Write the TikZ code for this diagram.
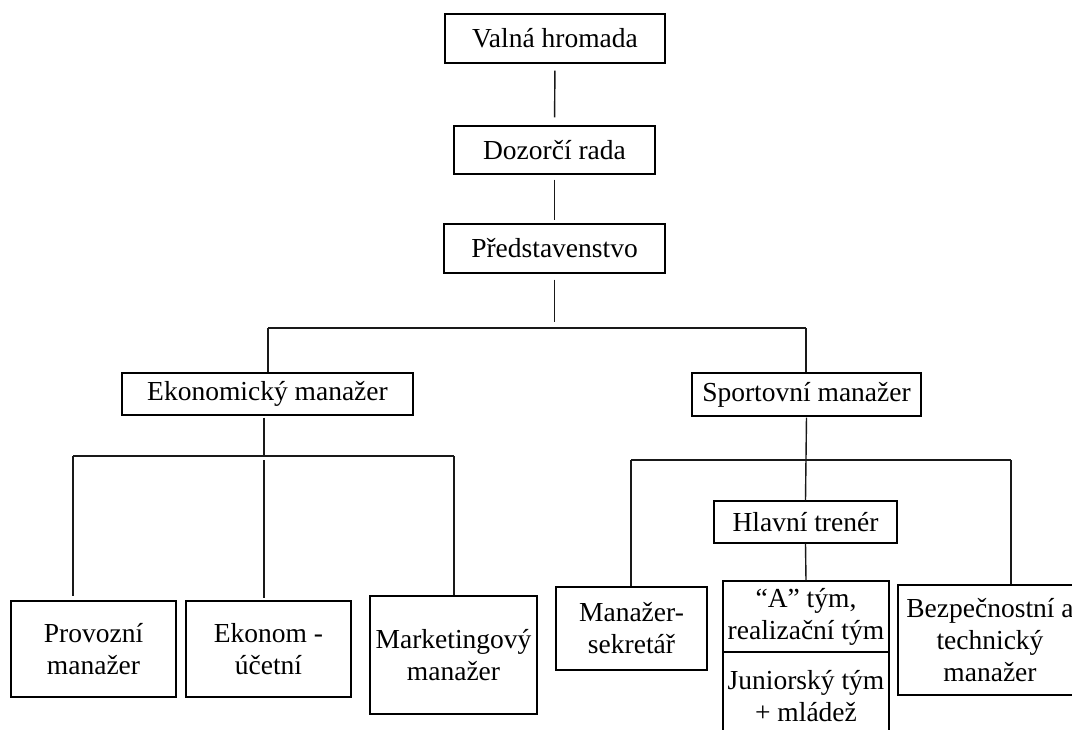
\documentclass[tikz,border=0pt]{standalone}
\usepackage{fontspec}
\setmainfont{Liberation Serif}
\tikzset{
  box/.style={draw, line width=1.4pt, align=center, inner sep=0pt,
    font=\fontsize{27.5}{32}\selectfont},
  link/.style={line width=1.4pt, black!90}
}
\begin{document}
\begin{tikzpicture}[x=1pt, y=-1pt]
\useasboundingbox (0,0) rectangle (1072,729);
\clip (0,0) rectangle (1072,729);
% top of the chart
\node [box, minimum width=220pt, minimum height=49pt] (vh) at (555,38.5) {Valná hromada};
\node [box, minimum width=201pt, minimum height=48pt] (dr) at (554.5,150) {Dozorčí rada};
\node [box, minimum width=221pt, minimum height=49pt] (pr) at (554.5,248.5) {Představenstvo};
\node [box, minimum width=291pt, minimum height=42pt] (em) at (267.5,394) {Ekonomický manažer};
\node [box, minimum width=229pt, minimum height=43pt] (sm) at (806.5,394.5) {Sportovní manažer};
% economic branch
\node [box, minimum width=165pt, minimum height=96pt] (pz) at (93.5,649) {Provozní\\manažer};
\node [box, minimum width=165pt, minimum height=96pt] (ek) at (268.5,649) {Ekonom -\\účetní};
\node [box, minimum width=167pt, minimum height=118pt] (mk) at (453.5,655) {Marketingový\\manažer};
% sport branch
\node [box, minimum width=183pt, minimum height=42pt] (ht) at (805.5,522) {Hlavní trenér};
\node [box, minimum width=151pt, minimum height=83pt] (ms) at (631.5,628.5) {Manažer-\\sekretář};
\node [box, minimum width=166pt, minimum height=71pt] (at) at (806,616.5) {“A” tým,\\realizační tým};
\node [box, minimum width=166pt, minimum height=88pt] (jr) at (806,696) {Juniorský tým\\+ mládež};
\node [box, minimum width=184pt, minimum height=110pt] (bt) at (990,640) {Bezpečnostní a\\technický\\manažer};

\coordinate (busTl) at (268,328); \coordinate (busTr) at (806,328);
\coordinate (busE) at (264,456); \coordinate (busEl) at (73,456); \coordinate (busEr) at (454,456);
\coordinate (busSl) at (631,460); \coordinate (busSr) at (1011,460);

\draw [link, shorten <=7pt, shorten >=8pt] (vh.south) -- (dr.north);
\draw [link, shorten <=5pt, shorten >=3pt] (dr.south) -- (pr.north);
\draw [link, shorten <=6pt, shorten >=6pt] (pr.south) -- (pr.south |- busTl);
\draw [link] (busTl) -- (busTr);
\draw [link] (busTl) -- (busTl |- em.north);
\draw [link] (busTr) -- (busTr |- sm.north);
\draw [link, shorten <=2pt] (busE |- em.south) -- (busE);
\draw [link] (busEl) -- (busEr);
\draw [link, shorten >=4pt] (busEl) -- (busEl |- pz.north);
\draw [link, shorten <=4pt, shorten >=2pt] (busE) -- (busE |- ek.north);
\draw [link] (busEr) -- (busEr |- mk.north);
\draw [link, shorten <=1pt] (sm.south) -- (ht.north);
\draw [link] (busSl) -- (busSr);
\draw [link] (busSl) -- (busSl |- ms.north);
\draw [link] (busSr) -- (busSr |- bt.north);
\draw [link] (ht.south) -- (at.north);
\end{tikzpicture}
\end{document}
